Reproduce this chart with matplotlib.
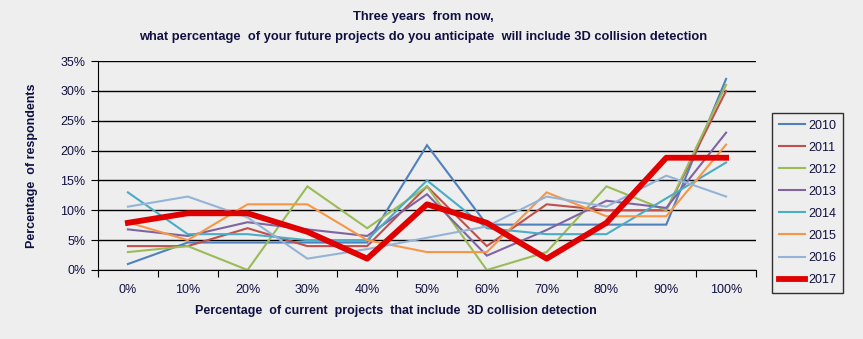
import numpy as np
import matplotlib.pyplot as plt

categories = ["0%", "10%", "20%", "30%", "40%", "50%", "60%", "70%", "80%", "90%", "100%"]

y2010 = [1.0, 4.6, 4.6, 4.6, 4.6, 20.9, 7.6, 7.6, 7.6, 7.6, 32.0]
y2011 = [4.0, 4.0, 7.0, 4.0, 4.0, 14.0, 4.0, 11.0, 10.0, 10.0, 30.0]
y2012 = [3.0, 4.0, 0.0, 14.0, 7.0, 14.0, 0.0, 3.0, 14.0, 10.0, 31.0]
y2013 = [6.8, 5.7, 8.0, 6.8, 5.7, 12.7, 2.4, 6.7, 11.6, 10.4, 23.0]
y2014 = [13.0, 6.0, 6.0, 5.0, 5.0, 15.0, 7.0, 6.0, 6.0, 12.0, 18.0]
y2015 = [8.0, 5.0, 11.0, 11.0, 5.0, 3.0, 3.0, 13.0, 9.0, 9.0, 21.0]
y2016 = [10.6, 12.3, 8.8, 1.9, 3.5, 5.4, 7.3, 12.3, 10.6, 15.8, 12.3]
y2017 = [7.9, 9.5, 9.5, 6.4, 1.9, 11.0, 7.9, 1.9, 7.9, 18.8, 18.8]

years = ["2010", "2011", "2012", "2013", "2014", "2015", "2016", "2017"]
colors = ["#4F81BD", "#C0504D", "#9BBB59", "#8064A2", "#4BACC6", "#F79646", "#95B3D7", "#E00000"]
series = [y2010, y2011, y2012, y2013, y2014, y2015, y2016, y2017]

plt.rcParams["font.family"] = ["Liberation Sans", "DejaVu Sans"]
text_color = "#101040"
bg = "#EEEEEE"

fig = plt.figure(figsize=(8.63, 3.39), dpi=100, facecolor=bg)
ax = fig.add_axes([98 / 863, 1 - 270 / 339, (756 - 98) / 863, (270 - 61) / 339])
ax.set_facecolor(bg)

x = np.arange(len(categories))
for year, col, vals in zip(years, colors, series):
    lw = 4.2 if year == "2017" else 1.5
    ax.plot(x, np.array(vals) / 100, color=col, linewidth=lw, label=year,
            solid_joinstyle="miter" if year != "2017" else "round",
            zorder=3 if year == "2017" else 2)

ax.set_xlim(-0.5, len(categories) - 0.5)
ax.set_ylim(0, 0.35)
ax.set_yticks(np.arange(0, 0.351, 0.05))
ax.set_yticklabels([f"{int(round(v * 100))}%" for v in np.arange(0, 0.351, 0.05)])
ax.yaxis.grid(True, color="black", linewidth=1.0)
ax.set_axisbelow(True)

ax.set_xticks(np.arange(-0.5, len(categories)), labels=[])
ax.set_xticks(x, minor=True)
ax.set_xticklabels(categories, minor=True)
ax.tick_params(axis="x", which="major", length=5, direction="out", color="black")
ax.tick_params(axis="x", which="minor", length=0, pad=10, labelsize=9, labelcolor=text_color)
ax.tick_params(axis="y", length=5, direction="out", labelsize=9, labelcolor=text_color, pad=4)

for side in ["top", "right"]:
    ax.spines[side].set_visible(False)
ax.spines["left"].set_color("black")
ax.spines["bottom"].set_color("black")

ax.set_xlabel("Percentage  of current  projects  that include  3D collision detection",
              fontsize=9, fontweight="bold", color=text_color)
ax.xaxis.set_label_coords((396 - 98) / 658, -35 / 209)
ax.set_ylabel("Percentage  of respondents", fontsize=9, fontweight="bold", color=text_color)
ax.yaxis.set_label_coords(-(98 - 38) / 658, 0.5)

fig.text(423 / 863, 1 - 17 / 339, "Three years  from now,", ha="center", va="center",
         fontsize=9.3, fontweight="bold", color=text_color)
fig.text(423 / 863, 1 - 37 / 339,
         "what percentage  of your future projects do you anticipate  will include 3D collision detection",
         ha="center", va="center", fontsize=9.3, fontweight="bold", color=text_color)

leg = fig.legend(loc="upper left", bbox_to_anchor=(772 / 863, 1 - 113 / 339),
                 frameon=True, fancybox=False, fontsize=9, handlelength=2.1,
                 labelspacing=0.8, borderpad=0.55, handletextpad=0.25,
                 borderaxespad=0)
leg.get_frame().set_edgecolor("black")
leg.get_frame().set_facecolor(bg)
leg.get_frame().set_linewidth(1.0)
for t in leg.get_texts():
    t.set_color(text_color)

fig.savefig("out.png", dpi=100, facecolor=bg)
